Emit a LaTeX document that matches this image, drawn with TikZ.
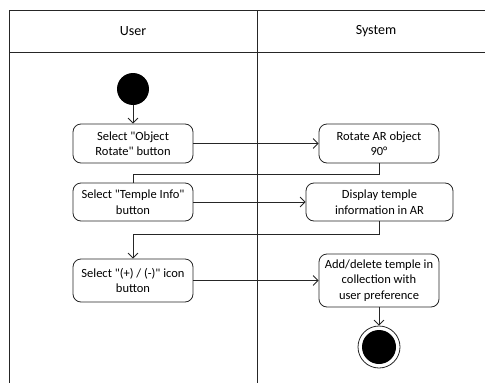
\documentclass[tikz,border=0pt]{standalone}
\usepackage{fontspec}
\setmainfont{Carlito}[Ligatures=TeXOff]
\usetikzlibrary{arrows.meta}
\tikzstyle{lane}=[draw=black!85, line width=.8pt]
\tikzstyle{action}=[draw=black!85, line width=.8pt, rounded corners=8pt, align=center, inner sep=0pt, font=\fontsize{12.5}{15.5}\selectfont]
\tikzstyle{flow}=[draw=black!85, line width=.8pt, -{Straight Barb[length=5pt, width=10pt]}]
\tikzstyle{link}=[draw=black!85, line width=.8pt]

\begin{document}
\begin{tikzpicture}[x=1pt, y=-1pt]
  \useasboundingbox (0,0) rectangle (485,383);
  % swimlanes
  \draw[lane] (9,383) -- (9,10) -- (485,10);
  \draw[lane] (9,52) -- (485,52);
  \draw[lane] (257,10) -- (257,383);
  \node[font=\fontsize{14}{16}\selectfont] (user) at (133,31) {User};
  \node[font=\fontsize{14}{16}\selectfont] (system) at (376,31) {System};

  % start and end
  \node[circle, fill=black, inner sep=0pt, minimum size=32pt] (start) at (133,89) {};
  \node[circle, draw=black!85, line width=.8pt, inner sep=0pt, minimum size=42pt] (stop) at (379,347) {};
  \node[circle, fill=black, inner sep=0pt, minimum size=34pt] (stopdot) at (stop) {};

  % actions
  \node[action, minimum width=120, minimum height=39] (objrot) at (133,143.5) {Select "Object\\Rotate" button};
  \node[action, minimum width=120, minimum height=39] (rotate) at (379,143.5) {Rotate AR object\\90°};
  \node[action, minimum width=120, minimum height=38] (info) at (133,202) {Select "Temple Info"\\button};
  \node[action, minimum width=147, minimum height=38] (display) at (379.5,202) {Display temple\\information in AR};
  \node[action, minimum width=120, minimum height=43] (plus) at (133,280.5) {Select "(+) / (-)" icon\\button};
  \node[action, minimum width=120, minimum height=53] (addel) at (379,280.5) {Add/delete temple in\\collection with\\user preference};

  % flows
  \draw[flow] (start) -- (objrot);
  \draw[flow] (objrot) -- (rotate);
  \draw[link] (rotate.south) -- ++(0,11) -| (info.north);
  \draw[flow] (info) -- (display);
  \draw[flow] (display.south) -- ++(0,13) -| (plus.north);
  \draw[flow] (plus) -- (addel);
  \draw[flow] (addel) -- (stop);
\end{tikzpicture}
\end{document}
